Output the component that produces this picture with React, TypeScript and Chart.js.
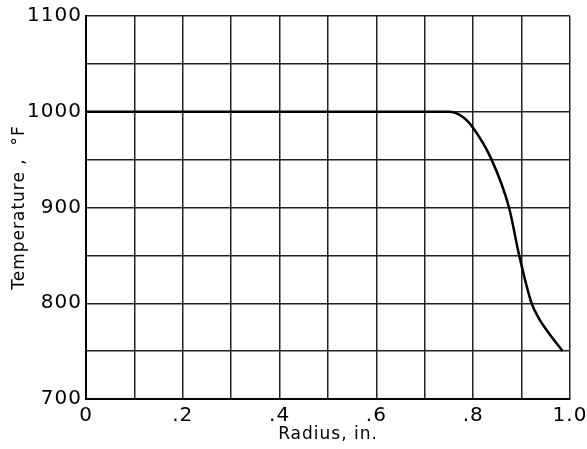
import React, { useEffect, useRef } from "react";
import { Chart, registerables } from "chart.js";

Chart.register(...registerables);

const radius = [0, 0.75, 0.78, 0.8, 0.838, 0.874, 0.895, 0.92, 0.936, 0.956, 0.985];
const temperature = [1000, 1000, 994, 983, 950, 900, 850, 801, 784, 769, 750];

const xLabels: Record<string, string> = { "0": "0", "0.2": ".2", "0.4": ".4", "0.6": ".6", "0.8": ".8", "1": "1.0" };
const yLabels = [700, 800, 900, 1000, 1100];

const FONT = "'DejaVu Sans', sans-serif";
const SPACING = "1px";

const spacingPlugin = {
  id: "spacing",
  beforeUpdate(chart: any) {
    chart.ctx.letterSpacing = SPACING;
  },
  beforeLayout(chart: any) {
    chart.ctx.letterSpacing = SPACING;
  },
  beforeDraw(chart: any) {
    chart.ctx.letterSpacing = SPACING;
  },
};

export default function App() {
  const ref = useRef<HTMLCanvasElement>(null);
  useEffect(() => {
    if (!ref.current) return;
    const chart = new Chart(ref.current, {
      type: "line",
      plugins: [spacingPlugin],
      data: {
        datasets: [
          {
            data: radius.map((r, i) => ({ x: r, y: temperature[i] })),
            borderColor: "#000",
            borderWidth: 2.5,
            pointRadius: 0,
            cubicInterpolationMode: "monotone",
            fill: false,
          },
        ],
      },
      options: {
        animation: false,
        responsive: false,
        maintainAspectRatio: false,
        layout: { padding: { left: 0, right: 17, top: 16, bottom: 0 } },
        plugins: { legend: { display: false }, tooltip: { enabled: false } },
        scales: {
          x: {
            type: "linear",
            min: 0,
            max: 1,
            border: { color: "#000", width: 2 },
            grid: { color: "#222", lineWidth: 1.5, drawTicks: false },
            ticks: {
              stepSize: 0.1,
              autoSkip: false,
              maxRotation: 0,
              padding: 5,
              color: "#000",
              font: { family: FONT, size: 20 },
              callback: (v: any) => {
                const key = String(Math.round(Number(v) * 10) / 10);
                return xLabels[key] ?? "";
              },
            },
            title: {
              display: true,
              text: "Radius, in.",
              color: "#000",
              font: { family: FONT, size: 17 },
              padding: { top: 0, bottom: 4 },
            },
            afterFit: (s: any) => {
              s.height = 50;
              s.paddingLeft = 0;
              s.paddingRight = 0;
            },
          },
          y: {
            type: "linear",
            min: 700,
            max: 1100,
            border: { color: "#000", width: 2 },
            grid: { color: "#222", lineWidth: 1.5, drawTicks: false },
            ticks: {
              stepSize: 50,
              autoSkip: false,
              padding: 4,
              color: "#000",
              font: { family: FONT, size: 20 },
              callback: (v: any) => (yLabels.includes(Number(v)) ? String(v) : ""),
            },
            title: {
              display: true,
              text: "Temperature ,  °F",
              color: "#000",
              font: { family: FONT, size: 17 },
              padding: { top: 9, bottom: 0 },
            },
            afterFit: (s: any) => {
              s.width = 86;
              s.paddingTop = 0;
              s.paddingBottom = 0;
            },
          },
        },
      },
    });
    return () => chart.destroy();
  }, []);
  return (
    <div style={{ position: "fixed", left: 0, top: 0, width: 587, height: 449, background: "#fff" }}>
      <canvas ref={ref} width={587} height={449} style={{ width: 587, height: 449 }} />
    </div>
  );
}
